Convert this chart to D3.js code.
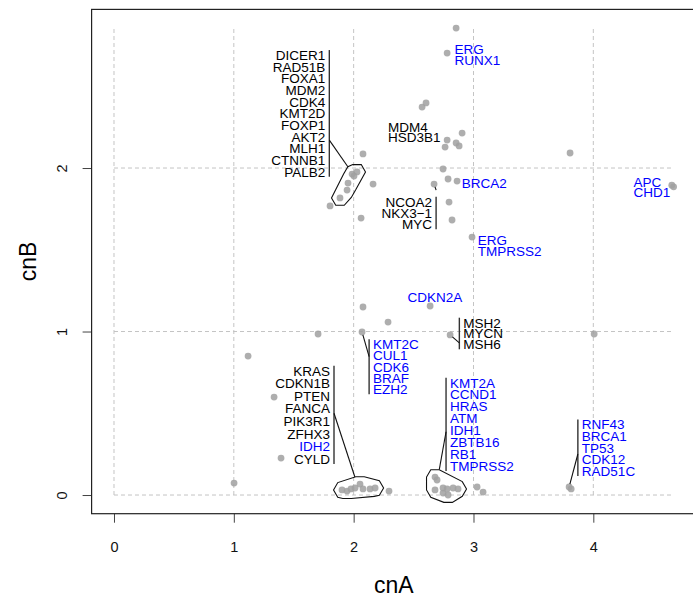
<!DOCTYPE html>
<html>
<head>
<meta charset="utf-8">
<script src="https://cdn.jsdelivr.net/npm/d3@7"></script>
<style>
  body { margin: 0; background: #fff; }
  text { font-family: "Liberation Sans", Arial, Helvetica, sans-serif; }
</style>
</head>
<body>
<div id="chart"></div>
<script>
// copy number values, one entry per gene point
const cnA = [2.855, 2.78, 2.571, 2.604, 2.905, 2.78, 2.763, 2.855, 2.88, 3.806,
    2.746, 2.788, 2.863, 2.671, 2.796, 2.821, 2.988, 2.062, 2.162, 2.078,
    1.953, 1.945, 1.987, 2.028, 2.003, 1.886, 1.803, 2.078, 2.638, 2.287,
    2.805, 2.070, 1.703, 1.119, 1.336, 1.394, 1.002, 4.007, 4.655, 4.670,
    1.903, 1.945, 1.978, 2.012, 2.053, 2.078, 2.137, 2.179, 2.295,
    2.679, 2.696, 2.679, 2.746, 2.746, 2.788, 2.830, 2.871, 2.780,
    3.030, 3.080, 3.798, 3.815];
const cnB = [2.856, 2.703, 2.373, 2.398, 2.214, 2.171, 2.128, 2.153, 2.135, 2.092,
    1.994, 1.933, 1.920, 1.902, 1.792, 1.682, 1.578, 1.694, 1.902, 2.086,
    1.908, 1.865, 1.963, 1.976, 1.951, 1.817, 1.768, 1.150, 1.156, 1.058,
    0.979, 0.997, 0.985, 0.850, 0.599, 0.226, 0.073, 0.985, 1.895, 1.885,
    0.031, 0.024, 0.037, 0.043, 0.067, 0.037, 0.037, 0.043, 0.024,
    0.110, 0.092, 0.031, 0.043, 0.012, 0.000, 0.043, 0.037, 0.037,
    0.049, 0.018, 0.049, 0.037];

// points enclosed by a hull (indices into cnA/cnB)
const hullTL = [20, 21, 22, 23, 24, 25];
const hullA = [40, 41, 42, 43, 44, 45, 46, 47];
const hullB = [49, 50, 51, 52, 53, 54, 55, 56, 57];

const xTicks = [0, 1, 2, 3, 4];
const yTicks = [0, 1, 2];

// gene labels, one list per label block
const labelGroups = [
    ["DICER1", "RAD51B", "FOXA1", "MDM2", "CDK4", "KMT2D", "FOXP1", "AKT2", "MLH1", "CTNNB1", "PALB2"],
    ["MDM4", "HSD3B1"],
    ["ERG", "RUNX1"],
    ["BRCA2"],
    ["APC", "CHD1"],
    ["NCOA2", "NKX3\u22121", "MYC"],
    ["ERG", "TMPRSS2"],
    ["CDKN2A"],
    ["MSH2", "MYCN", "MSH6"],
    ["KMT2C", "CUL1", "CDK6", "BRAF", "EZH2"],
    ["KRAS", "CDKN1B", "PTEN", "FANCA", "PIK3R1", "ZFHX3", "IDH2", "CYLD"],
    ["KMT2A", "CCND1", "HRAS", "ATM", "IDH1", "ZBTB16", "RB1", "TMPRSS2"],
    ["RNF43", "BRCA1", "TP53", "CDK12", "RAD51C"]
];
const blueGenes = ["ERG", "RUNX1", "BRCA2", "APC", "CHD1", "TMPRSS2", "CDKN2A",
    "KMT2C", "CUL1", "CDK6", "BRAF", "EZH2", "IDH2", "KMT2A", "CCND1", "HRAS",
    "ATM", "IDH1", "ZBTB16", "RB1", "RNF43", "BRCA1", "TP53", "CDK12", "RAD51C"];

// where each label block sits (data units), how it is aligned and what it points to
const labelLayout = [
    {x: 1.797, y: 2.691, align: "end", step: 11.67, bar: true, attach: 2.171, hull: hullTL},
    {x: 2.287, y: 2.253, align: "start", step: 10.6},
    {x: 2.841, y: 2.726, align: "start", step: 10.7},
    {x: 2.902, y: 1.906, align: "start", step: 11},
    {x: 4.335, y: 1.916, align: "start", step: 10},
    {x: 2.688, y: 1.794, align: "end", step: 11.3, bar: true, attach: 1.865, point: 13},
    {x: 3.036, y: 1.560, align: "start", step: 11},
    {x: 2.677, y: 1.209, align: "middle", step: 11},
    {x: 2.882, y: 1.054, align: "start", step: 10.8, bar: true, attach: 0.931, point: 30},
    {x: 2.129, y: 0.922, align: "start", step: 11.25, bar: true, attach: 0.846, point: 31},
    {x: 1.836, y: 0.760, align: "end", step: 12.6, bar: true, attach: 0.500, hull: hullA},
    {x: 2.771, y: 0.687, align: "start", step: 11.9, bar: true, attach: 0.387, hull: hullB},
    {x: 3.871, y: 0.432, align: "start", step: 11.67, bar: true, attach: 0.251, point: 60}
];

const width = 693, height = 599;
const plot = {left: 91.6, right: 696, top: 9.4, bottom: 513.7};

const svg = d3.select("#chart")
    .append("svg")
    .attr("width", width)
    .attr("height", height);

const xMax = d3.max(cnA), yMax = d3.max(cnB);
const x = d3.scaleLinear()
    .domain([-0.04 * xMax, 1.04 * xMax])
    .range([plot.left, plot.right]);
const y = d3.scaleLinear()
    .domain([-0.04 * yMax, 1.04 * yMax])
    .range([plot.bottom, plot.top]);

// dashed grid, spanning 0..max of the data
const grid = svg.append("g")
    .attr("stroke", "#c4c4c4")
    .attr("stroke-width", 1)
    .attr("stroke-dasharray", "4,3");
grid.selectAll("line.gx")
    .data(xTicks)
    .join("line")
    .attr("class", "gx")
    .attr("x1", d => x(d)).attr("x2", d => x(d))
    .attr("y1", y(0)).attr("y2", y(yMax));
grid.selectAll("line.gy")
    .data(yTicks)
    .join("line")
    .attr("class", "gy")
    .attr("y1", d => y(d)).attr("y2", d => y(d))
    .attr("x1", x(0)).attr("x2", x(xMax));

// axes
const xAxis = svg.append("g")
    .attr("transform", `translate(0, ${plot.bottom})`)
    .call(d3.axisBottom(x).tickValues(xTicks).tickSize(9).tickSizeOuter(0).tickFormat(d3.format("d")));
xAxis.select(".domain").remove();
xAxis.selectAll(".tick line").attr("stroke", "#444");
xAxis.selectAll(".tick text")
    .attr("y", 33).attr("dy", "0.35em")
    .attr("font-size", 14.5).attr("fill", "#111")
    .attr("font-family", "Liberation Sans, Arial, sans-serif");

const yAxis = svg.append("g")
    .attr("transform", `translate(${plot.left}, 0)`)
    .call(d3.axisLeft(y).tickValues(yTicks).tickSize(9).tickSizeOuter(0).tickFormat(d3.format("d")));
yAxis.select(".domain").remove();
yAxis.selectAll(".tick line").attr("stroke", "#444");
yAxis.selectAll(".tick text")
    .attr("x", 0).attr("dy", "0.35em")
    .attr("text-anchor", "middle")
    .attr("transform", "translate(-30, 0) rotate(-90)")
    .attr("font-size", 14.5).attr("fill", "#111")
    .attr("font-family", "Liberation Sans, Arial, sans-serif");

// plot box
svg.append("rect")
    .attr("x", plot.left).attr("y", plot.top)
    .attr("width", plot.right - plot.left)
    .attr("height", plot.bottom - plot.top)
    .attr("fill", "none")
    .attr("stroke", "#222")
    .attr("stroke-width", 1.2);

// axis titles
svg.append("text")
    .attr("x", (plot.left + plot.right) / 2)
    .attr("y", 585)
    .attr("dy", "0.35em")
    .attr("text-anchor", "middle")
    .attr("font-size", 23)
    .text("cnA");
svg.append("text")
    .attr("transform", `translate(28, ${(plot.top + plot.bottom) / 2}) rotate(-90)`)
    .attr("dy", "0.35em")
    .attr("text-anchor", "middle")
    .attr("font-size", 23)
    .text("cnB");

// points
const pts = cnA.map((a, i) => ({a: a, b: cnB[i]}));
svg.append("g")
    .selectAll("circle")
    .data(pts)
    .join("circle")
    .attr("cx", d => x(d.a))
    .attr("cy", d => y(d.b))
    .attr("r", 3.4)
    .attr("fill", "#a0a0a0")
    .attr("fill-opacity", 0.85);

// convex hull around a set of points, padded by a hexagon round each point
function paddedHull(members) {
    const ps = [];
    members.forEach(i => {
        for (let k = 0; k < 6; k++) {
            const t = Math.PI / 3 * k;
            ps.push([x(cnA[i]) + 8.5 * Math.cos(t), y(cnB[i]) + 8.5 * Math.sin(t)]);
        }
    });
    return d3.polygonHull(ps);
}

function closestOnPoly(poly, p) {
    let best = null, bd = Infinity;
    for (let i = 0; i < poly.length; i++) {
        const a = poly[i], b = poly[(i + 1) % poly.length];
        const dx = b[0] - a[0], dy = b[1] - a[1];
        let t = ((p[0] - a[0]) * dx + (p[1] - a[1]) * dy) / (dx * dx + dy * dy);
        t = Math.max(0, Math.min(1, t));
        const q = [a[0] + t * dx, a[1] + t * dy];
        const d = Math.hypot(q[0] - p[0], q[1] - p[1]);
        if (d < bd) { bd = d; best = q; }
    }
    return best;
}

const ann = svg.append("g");

labelLayout.forEach((lay, gi) => {
    const genes = labelGroups[gi];
    const ax = x(lay.x), y0 = y(lay.y);
    let tx = ax;
    if (lay.bar) tx = lay.align === "end" ? ax - 4 : ax + 4;

    ann.append("g")
        .selectAll("text")
        .data(genes)
        .join("text")
        .attr("x", tx)
        .attr("y", (d, j) => y0 + j * lay.step)
        .attr("dy", "0.36em")
        .attr("text-anchor", lay.align)
        .attr("font-size", 13.5)
        .attr("fill", d => blueGenes.includes(d) ? "#0000ff" : "#000")
        .text(d => d);

    if (!lay.bar) return;

    ann.append("line")
        .attr("x1", ax).attr("x2", ax)
        .attr("y1", y0 - 5)
        .attr("y2", y0 + (genes.length - 1) * lay.step + 5)
        .attr("stroke", "#333")
        .attr("stroke-width", 1.4);

    const start = [ax, y(lay.attach)];
    let end;
    if (lay.hull) {
        const poly = paddedHull(lay.hull);
        ann.append("path")
            .attr("d", "M" + poly.join("L") + "Z")
            .attr("fill", "none")
            .attr("stroke", "#111")
            .attr("stroke-width", 1.1);
        end = closestOnPoly(poly, start);
    } else {
        const p = [x(cnA[lay.point]), y(cnB[lay.point])];
        const d = Math.hypot(p[0] - start[0], p[1] - start[1]);
        const k = Math.max(0, (d - 3) / d);
        end = [start[0] + (p[0] - start[0]) * k, start[1] + (p[1] - start[1]) * k];
    }
    ann.append("line")
        .attr("x1", start[0]).attr("y1", start[1])
        .attr("x2", end[0]).attr("y2", end[1])
        .attr("stroke", "#111")
        .attr("stroke-width", 1.1);
});
</script>
</body>
</html>
